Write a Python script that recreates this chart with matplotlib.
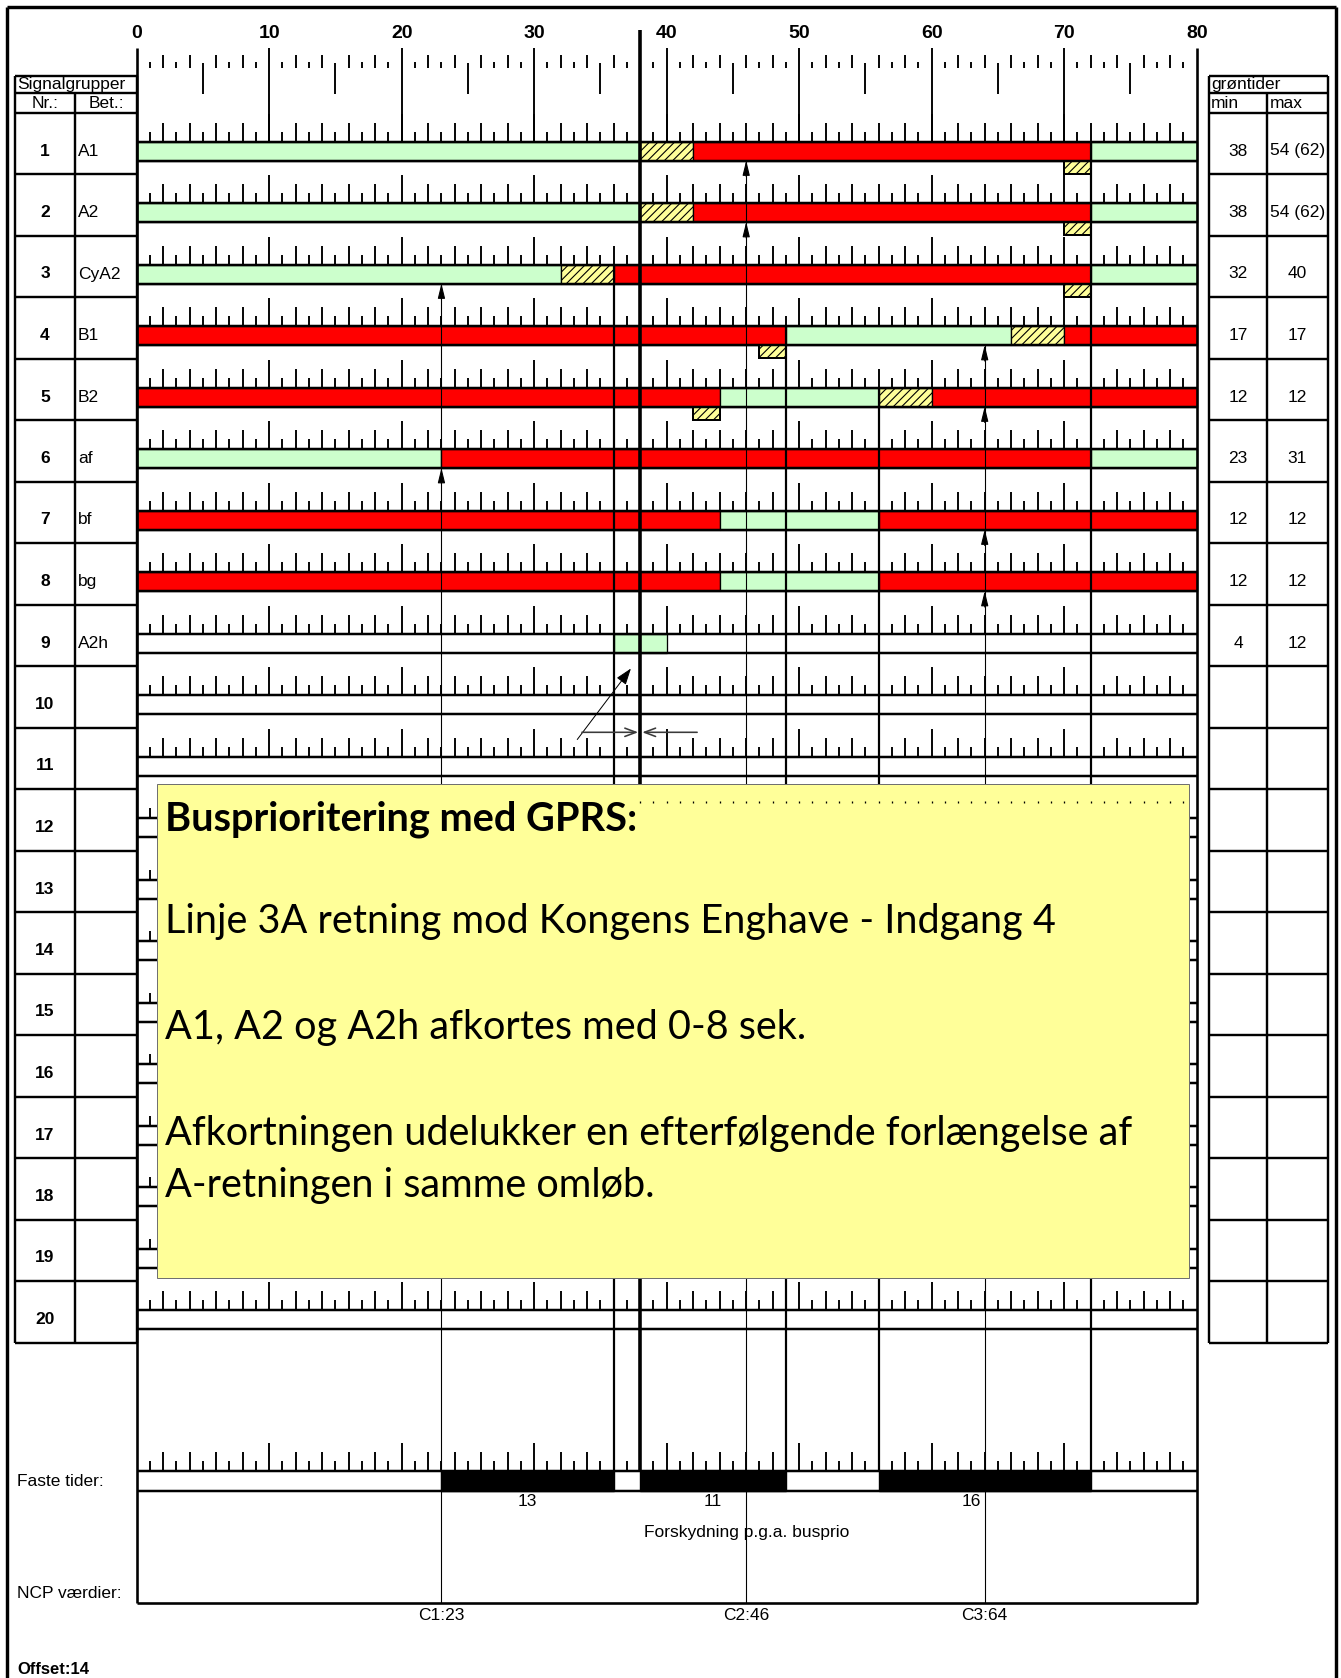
import matplotlib
matplotlib.use("Agg")
import numpy as np
import matplotlib.pyplot as plt
from matplotlib import font_manager

# ---------------- data ----------------
group_no = list(range(1, 21))
group_names = ["A1", "A2", "CyA2", "B1", "B2", "af", "bf", "bg", "A2h"]
green_min = ["38", "38", "32", "17", "12", "23", "12", "12", "4"]
green_max = ["54 (62)", "54 (62)", "40", "17", "12", "31", "12", "12", "12"]

# phases per signal group: start second, duration, state (G green, R red, Y amber)
phase_start = [[0, 38, 42, 72], [0, 38, 42, 72], [0, 32, 36, 72], [0, 49, 66, 70],
               [0, 44, 56, 60], [0, 23, 72], [0, 44, 56], [0, 44, 56], [36]]
phase_len = [[38, 4, 30, 8], [38, 4, 30, 8], [32, 4, 36, 8], [49, 17, 4, 10],
             [44, 12, 4, 20], [23, 49, 8], [44, 12, 24], [44, 12, 24], [4]]
phase_state = [["G", "Y", "R", "G"], ["G", "Y", "R", "G"], ["G", "Y", "R", "G"],
               ["R", "G", "Y", "R"], ["R", "G", "Y", "R"], ["G", "R", "G"],
               ["R", "G", "R"], ["R", "G", "R"], ["G"]]
# red/amber intervals shown below the bar
amber_row = [1, 2, 3, 4, 5]
amber_start = [70, 70, 70, 47, 42]
amber_len = [2, 2, 2, 2, 2]

cycle = 80
ruler_labels = list(range(0, 81, 10))

fixed_start = [23, 38, 56]
fixed_len = [13, 11, 16]

ncp_names = ["C1:23", "C2:46", "C3:64"]
ncp_time = [23, 46, 64]
ncp_arrow_rows = [[3, 6], [1, 2], [4, 5, 7, 8]]

phase_line_time = [36, 49, 56, 72]
phase_line_row = [3, 4, 5, 1]
shift_time = 38          # thick line, start of shifted stage
shift_label = "Forskydning p.g.a. busprio"

box_title = "Busprioritering med GPRS:"
box_lines = ["Linje 3A retning mod Kongens Enghave - Indgang 4",
             "A1, A2 og A2h afkortes med 0-8 sek.",
             "Afkortningen udelukker en efterfølgende forlængelse af",
             "A-retningen i samme omløb."]

# ---------------- fonts ----------------
avail = {f.name for f in font_manager.fontManager.ttflist}
def pick(*names):
    for n in names:
        if n in avail:
            return n
    return "DejaVu Sans"
SANS = pick("Liberation Sans", "Arial", "DejaVu Sans")
NARROW = pick("Liberation Sans Narrow", "Liberation Sans", "DejaVu Sans")
BOXF = pick("Lato", "Open Sans", "Noto Sans", "DejaVu Sans")
plt.rcParams["font.family"] = [SANS, "DejaVu Sans"]
plt.rcParams["hatch.linewidth"] = 0.8

# ---------------- layout (pixels) ----------------
W, H = 1341, 1678
X0, SEC = 136.7, 13.25
fig = plt.figure(figsize=(W / 100, H / 100), dpi=100)
ax = fig.add_axes([0, 0, 1, 1])
ax.set_xlim(-X0 / SEC, (W - X0) / SEC)
ax.set_ylim(H, 0)
ax.axis("off")

def sx(px):
    return (px - X0) / SEC

def P(px):  # pixel width -> points
    return px * 0.72

TABLE_TOP, PITCH = 112.5, 61.5
BAR_OFF, BAR_H = 29.0, 19.0
def cell_top(k):
    return TABLE_TOP + (k - 1) * PITCH
def bar_top(k):
    return cell_top(k) + BAR_OFF
def bar_mid(k):
    return bar_top(k) + BAR_H / 2

FASTE_TOP, FASTE_H = 1471.0, 19.5
NCP_BOTTOM = 1603.0
NROWS = 20
colors = {"G": "#CCFFCC", "R": "#FF0000", "Y": "#FFFF99"}

# ---------------- outer frame ----------------
ax.vlines([sx(6.5), sx(1336)], 7, H, color="k", lw=P(3.4), zorder=5)
ax.hlines(7, sx(6.5), sx(1336), color="k", lw=P(3.4), zorder=5)

# ---------------- tables ----------------
LT0, LT1, LT2 = 15, 75, X0
RT0, RT1, RT2 = 1209, 1267, 1328
row_lines = [TABLE_TOP + i * PITCH for i in range(NROWS + 1)]
tbl_bottom = row_lines[-1]
for (a, b, c) in [(LT0, LT1, LT2), (RT0, RT1, RT2)]:
    ax.hlines([75.7, 93.3] + row_lines, sx(a), sx(c), color="k", lw=P(2.4), zorder=5)
    ax.vlines([sx(a), sx(c)], 75.7, tbl_bottom, color="k", lw=P(2.4), zorder=5)
    ax.vlines(sx(b), 93.3, tbl_bottom, color="k", lw=P(2.4), zorder=5)

ax.text(sx(17), 84.5, "Signalgrupper", fontsize=12.5, ha="left", va="center", zorder=6)
ax.text(sx(45), 103, "Nr.:", fontsize=12.5, ha="center", va="center", zorder=6)
ax.text(sx(106), 103, "Bet.:", fontsize=12.5, ha="center", va="center", zorder=6)
ax.text(sx(RT0 + 2), 84.5, "grøntider", fontsize=12.5, ha="left", va="center", zorder=6)
ax.text(sx(RT0 + 2), 103, "min", fontsize=12.5, ha="left", va="center", zorder=6)
ax.text(sx(RT1 + 3), 103, "max", fontsize=12.5, ha="left", va="center", zorder=6)

for k in group_no:
    ax.text(sx(45), bar_mid(k), str(k), fontsize=12.5, weight="bold",
            ha="center", va="center", zorder=6)
for i, name in enumerate(group_names):
    k = i + 1
    ax.text(sx(78), bar_mid(k), name, fontsize=12.5, ha="left", va="center", zorder=6)
    ax.text(sx((RT0 + RT1) / 2), bar_mid(k), green_min[i], fontsize=12.5,
            ha="center", va="center", zorder=6)
    ax.text(sx((RT1 + RT2) / 2), bar_mid(k), green_max[i], fontsize=12.5,
            ha="center", va="center", zorder=6)

# ---------------- top ruler ----------------
for v in ruler_labels:
    ax.text(v, 33.5, str(v), fontsize=14, weight="bold", ha="center", va="center",
            zorder=6, family=[NARROW, SANS])
secs = np.arange(1, cycle)
ten = secs % 10 == 0
five = (secs % 5 == 0) & ~ten
even = (secs % 2 == 0) & ~ten
odd = (secs % 2 == 1) & ~five
ax.vlines(secs[ten], 48, bar_top(1), color="k", lw=P(1.9), zorder=3)
ax.vlines(secs[five], 63, 94, color="k", lw=P(1.9), zorder=3)
ax.vlines(secs[even], 55, 68.3, color="k", lw=P(1.9), zorder=3)
ax.vlines(secs[odd], 62, 68.3, color="k", lw=P(1.9), zorder=3)

tick_h = np.where(secs % 10 == 0, 28, np.where(secs % 2 == 0, 19, 10))

def ruler(base):
    ax.vlines(secs, base - tick_h, base, color="k", lw=P(1.9), zorder=3)

# ---------------- signal group rows ----------------
for k in group_no:
    top = bar_top(k)
    ruler(top)
    if k <= len(group_names):
        i = k - 1
        for s, d, st in zip(phase_start[i], phase_len[i], phase_state[i]):
            ax.barh(top + BAR_H / 2, d, left=s, height=BAR_H, color=colors[st],
                    edgecolor="k", lw=P(1.3), hatch="////" if st == "Y" else None,
                    zorder=2)
    ax.hlines([top, top + BAR_H], 0, cycle, color="k", lw=P(2.5), zorder=3)

for r, s, d in zip(amber_row, amber_start, amber_len):
    top = bar_top(r) + BAR_H
    ax.barh(top + 6.7, d, left=s, height=13.4, color=colors["Y"], edgecolor="k",
            lw=P(2.0), hatch="////", zorder=2)

# ---------------- fixed times ----------------
ruler(FASTE_TOP)
ax.barh([FASTE_TOP + FASTE_H / 2] * len(fixed_start), fixed_len, left=fixed_start,
        height=FASTE_H, color="k", edgecolor="k", zorder=2)
ax.hlines([FASTE_TOP, FASTE_TOP + FASTE_H], 0, cycle, color="k", lw=P(2.5), zorder=3)
for s, d in zip(fixed_start, fixed_len):
    cx = s + d / 2
    for t in ncp_time:          # keep the label clear of an NCP line
        if abs(cx - t) < 0.8:
            cx = t - 1.0
    ax.text(cx, 1502, str(d), fontsize=12.5, ha="center", va="center", zorder=6)
ax.text(shift_time + 0.3, 1533, shift_label, fontsize=12.5, ha="left", va="center",
        zorder=6)

# ---------------- chart frame and vertical lines ----------------
ax.vlines([0, cycle], 48, NCP_BOTTOM, color="k", lw=P(2.6), zorder=4)
ax.hlines(NCP_BOTTOM, 0, cycle, color="k", lw=P(2.6), zorder=4)
ax.vlines(shift_time, 30, FASTE_TOP, color="k", lw=P(3.6), zorder=4)
for t, r in zip(phase_line_time, phase_line_row):
    ax.vlines(t, bar_top(r), FASTE_TOP, color="k", lw=P(2.2), zorder=4)

for name, t, rows in zip(ncp_names, ncp_time, ncp_arrow_rows):
    ax.vlines(t, bar_top(rows[0]) + BAR_H, NCP_BOTTOM, color="k", lw=P(1.1), zorder=4)
    for r in rows:
        tip = bar_top(r) + BAR_H
        ax.annotate("", xy=(t, tip), xytext=(t, tip + 16),
                    arrowprops=dict(arrowstyle="-|>,head_length=0.9,head_width=0.22",
                                    color="k", lw=P(1.1), shrinkA=0, shrinkB=0),
                    zorder=5)
    ax.text(t, 1615, name, fontsize=12.5, ha="center", va="center", zorder=6)

# bus priority shift arrows
ax.annotate("", xy=(37.3, 668.5), xytext=(33.25, 739.5),
            arrowprops=dict(arrowstyle="-|>,head_length=1.0,head_width=0.35",
                            color="k", lw=P(1.0), shrinkA=0, shrinkB=0), zorder=5)
ax.annotate("", xy=(37.85, 732.3), xytext=(33.6, 732.3),
            arrowprops=dict(arrowstyle="->,head_length=0.8,head_width=0.3",
                            color="#3a3a3a", lw=P(1.6), shrinkA=0, shrinkB=0), zorder=5)
ax.annotate("", xy=(38.15, 732.3), xytext=(42.3, 732.3),
            arrowprops=dict(arrowstyle="->,head_length=0.8,head_width=0.3",
                            color="#3a3a3a", lw=P(1.6), shrinkA=0, shrinkB=0), zorder=5)

# ---------------- bottom labels ----------------
ax.text(sx(17), 1481, "Faste tider:", fontsize=12.5, ha="left", va="center", zorder=6)
ax.text(sx(17), 1594, "NCP værdier:", fontsize=12.5, ha="left", va="center", zorder=6)
ax.text(sx(17), 1670, "Offset:14", fontsize=12, weight="bold", ha="left",
        va="center", zorder=6)

# ---------------- note box ----------------
bx0, bx1, by0, by1 = sx(157), sx(1189), 783.5, 1277.5
ax.add_patch(plt.Rectangle((bx0, by0), bx1 - bx0, by1 - by0, facecolor="#FFFF99",
                           edgecolor="#707070", lw=P(1.0), zorder=7))
dots = np.arange(38, 80)
ax.vlines(dots, 800.5, 803, color="k", lw=P(1.3), zorder=8)

renderer = fig.canvas.get_renderer()
def place(y, s, target, weight="normal"):
    t = ax.text(sx(165), y, s, fontsize=30, family=[BOXF, "DejaVu Sans"], weight=weight,
                ha="left", va="center", zorder=9)
    w = t.get_window_extent(renderer=renderer).width
    return t, 30 * target / w

t, fs = place(819, box_title, 473, weight="bold")
t.set_fontsize(fs)
line_y = [922, 1028, 1133, 1186]
line_w = [885, 631, 978, 497]
items = [place(y, s, w) for y, s, w in zip(line_y, box_lines, line_w)]
fs_reg = float(np.mean([f for _, f in items]))
for t, _ in items:
    t.set_fontsize(fs_reg)

fig.savefig("out.png", dpi=100)
